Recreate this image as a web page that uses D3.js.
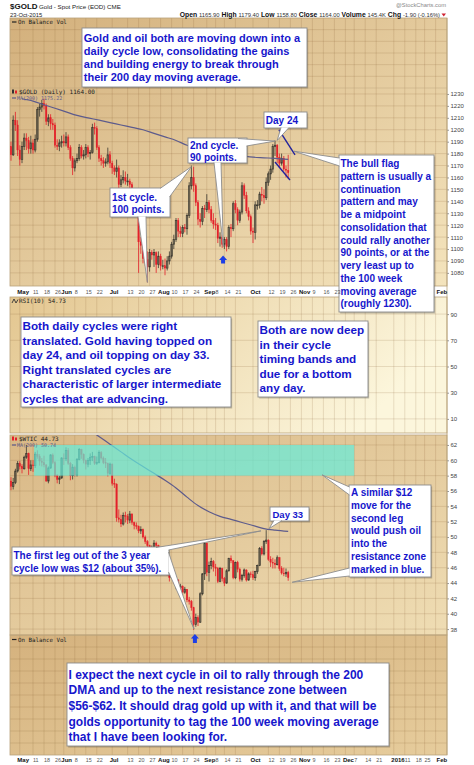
<!DOCTYPE html>
<html><head><meta charset="utf-8">
<script src="https://cdn.jsdelivr.net/npm/d3@7/dist/d3.min.js"></script>
<style>
html,body{margin:0;padding:0;background:#fff;}
svg{display:block;}
</style></head><body>
<svg id="c" width="474" height="765"></svg>
<script>
// ---------------- DATA ----------------
const startDate = "2015-04-27";
const holidays = ["2015-05-25","2015-07-03","2015-09-07","2015-11-26","2015-12-25","2016-01-01","2016-01-18"];

const goldOpen = [1186,1179,1208,1204,1183,1175,1186,1193,1191,1184,
1189,1183,1192,1217,1219,1222,1220,1207,1210,1205,
1204,1187,1186,1189,1190,1189,1194,1185,1176,1168,
1174,1176,1185,1178,1179,1185,1180,1181,1202,1201,
1185,1176,1174,1172,1173,1179,1172,1168,1165,1168,
1154,1158,1160,1157,1157,1154,1147,1145,1132,1106,
1103,1092,1091,1085,1097,1095,1097,1087,1094,1086,
1086,1084,1090,1094,1104,1108,1124,1115,1113,1118,
1117,1128,1153,1160,1153,1139,1125,1123,1134,1133,
1139,1133,1124,1121,1120,1109,1110,1104,1108,1102,
1118,1117,1138,1133,1124,1131,1153,1145,1132,1127,
1115,1114,1137,1137,1146,1145,1143,1156,1163,1167,
1186,1187,1177,1172,1176,1167,1166];
const goldHigh = [1190,1212,1215,1208,1187,1190,1197,1197,1194,1195,
1192,1196,1219,1222,1225,1226,1222,1213,1213,1209,
1206,1192,1192,1195,1196,1198,1196,1187,1178,1176,
1180,1188,1187,1183,1188,1187,1183,1205,1206,1203,
1187,1179,1177,1176,1185,1182,1174,1170,1175,1170,
1162,1166,1165,1163,1159,1156,1149,1146,1133,1110,
1105,1098,1098,1100,1099,1100,1098,1098,1096,1091,
1092,1094,1098,1106,1112,1126,1126,1119,1120,1121,
1130,1156,1170,1169,1155,1141,1130,1136,1137,1146,
1141,1136,1130,1126,1122,1114,1112,1110,1110,1120,
1121,1140,1141,1135,1133,1156,1155,1148,1135,1129,
1118,1140,1141,1148,1152,1150,1160,1165,1170,1188,
1191,1188,1180,1180,1178,1170,1179];
const goldLow = [1174,1178,1199,1178,1170,1172,1183,1183,1180,1180,
1180,1181,1190,1211,1215,1217,1204,1203,1200,1200,
1185,1183,1182,1185,1186,1186,1183,1174,1162,1165,
1172,1174,1176,1175,1176,1177,1175,1180,1196,1183,
1173,1170,1168,1169,1171,1168,1163,1162,1160,1150,
1152,1155,1154,1153,1150,1144,1142,1130,1080,1096,
1088,1086,1072,1081,1091,1085,1080,1084,1082,1083,
1078,1082,1087,1092,1100,1106,1110,1110,1110,1114,
1112,1126,1150,1148,1136,1120,1118,1120,1126,1131,
1130,1122,1117,1116,1105,1102,1101,1100,1098,1100,
1110,1115,1130,1120,1122,1129,1142,1130,1124,1112,
1105,1108,1133,1134,1140,1138,1141,1153,1158,1164,
1178,1172,1168,1170,1165,1160,1159];
const goldClose = [1179,1208,1204,1183,1175,1186,1193,1191,1184,1189,
1183,1192,1217,1219,1222,1220,1207,1210,1205,1204,
1187,1186,1189,1190,1189,1194,1185,1176,1168,1174,
1176,1185,1178,1179,1185,1180,1181,1202,1201,1185,
1176,1174,1172,1173,1179,1172,1168,1165,1168,1154,
1158,1160,1157,1157,1154,1147,1145,1132,1106,1103,
1092,1091,1085,1097,1095,1097,1087,1094,1086,1086,
1084,1090,1094,1104,1108,1124,1115,1113,1118,1117,
1128,1153,1160,1153,1139,1125,1123,1134,1133,1139,
1133,1124,1121,1120,1109,1110,1104,1108,1102,1118,
1117,1138,1133,1124,1131,1153,1145,1132,1127,1115,
1114,1137,1137,1146,1145,1143,1156,1163,1167,1186,
1187,1177,1172,1176,1167,1166,1164];

const goldMaIdx = [5,10,15,20,25,30,35,40,45,50,55,60,65,70,75,80,85,90,95,100,105,110,115,120,126];
const goldMaVal = [1226,1224,1221,1218,1215,1212,1210,1208,1206,1204,1202,1200,1197,1194,1191,1187,1184,1182,1180,1179,1178,1177,1176.5,1176,1175.2];

const oilOpen = [57.3,56.6,57.1,58.6,59.6,59.2,58.9,60.4,60.9,58.9,
59.4,59.3,60.8,60.5,59.9,59.7,59.4,57.3,59.0,60.7,
59.7,58.0,57.5,57.7,60.3,60.2,61.3,59.6,58.0,59.1,
58.1,60.1,61.4,60.8,60.0,59.5,60.0,60.4,60.5,59.6,
59.7,61.0,60.3,59.7,59.6,58.3,59.5,57.0,56.9,52.5,
52.3,51.7,52.8,52.7,52.2,53.0,51.9,51.5,51.4,50.8,
51.0,50.0,49.4,48.9,48.1,48.6,49.2,48.9,47.6,46.3,
46.6,45.9,45.4,44.7,45.6,44.2,44.4,43.4,43.6,42.8,
43.2,41.8,41.6,40.8,38.6,39.5,38.9,42.6,45.2,49.2,
45.4,46.3,46.8,46.1,45.9,44.2,45.9,44.6,44.0,45.6,
47.2,46.9,44.7,46.7,45.8,44.5,45.0,45.7,44.4,45.2,
45.1,44.7,45.5,46.3,48.5,47.8,49.4,49.6,47.1,46.7,
46.6,46.4,47.3,45.9,45.3,45.2,45.4];
const oilHigh = [57.8,57.7,58.9,59.9,59.9,59.5,60.6,62.0,61.0,60.0,
60.0,61.1,61.3,60.8,60.3,60.6,59.5,59.2,60.8,60.9,
59.9,58.2,58.0,60.4,60.9,61.7,61.6,59.8,59.5,59.3,
60.3,61.6,61.5,60.9,60.1,60.3,60.9,61.1,60.6,60.5,
61.3,61.2,60.5,60.3,59.7,59.7,59.6,57.6,57.0,53.6,
52.9,53.2,53.3,53.0,53.4,53.1,52.0,51.9,51.5,51.4,
51.1,50.2,49.6,49.0,48.9,49.6,49.4,49.0,47.7,47.0,
46.8,46.1,45.6,45.8,45.7,44.9,44.5,43.9,43.7,43.5,
43.2,42.2,41.8,40.9,40.0,39.8,42.8,45.3,49.4,49.3,
46.8,47.3,47.0,46.5,46.1,46.1,46.0,44.8,45.8,47.3,
47.6,47.0,46.8,46.9,46.0,45.2,45.9,45.8,45.4,45.5,
45.6,45.6,46.4,48.7,48.8,49.6,50.9,49.7,47.5,47.3,
47.1,47.6,47.4,46.2,46.0,45.9,45.6];
const oilLow = [56.1,56.2,56.9,58.4,58.8,58.3,58.8,60.2,58.1,58.6,
58.5,59.0,60.2,59.3,59.2,59.1,57.2,57.0,58.9,59.5,
57.8,57.0,56.9,57.6,59.4,59.9,59.4,57.4,57.5,57.9,
57.9,60.0,60.2,59.6,58.8,59.1,59.4,59.9,59.4,59.4,
59.6,60.1,59.5,59.0,57.9,58.1,56.7,56.4,52.0,51.9,
51.3,51.5,51.9,51.7,51.8,51.6,51.0,51.0,50.5,50.4,
49.8,49.1,48.5,47.8,47.8,48.5,48.6,47.3,46.0,45.9,
45.6,45.0,44.2,44.6,43.9,43.2,43.1,42.9,42.4,42.6,
41.5,41.2,40.4,37.9,38.3,38.4,38.8,42.4,44.4,44.9,
44.2,45.8,45.5,44.9,44.0,44.1,44.2,43.6,43.9,45.5,
46.6,44.5,44.5,45.4,44.2,44.2,44.7,44.2,44.3,44.7,
44.4,44.3,45.2,46.2,47.6,47.6,49.1,46.9,46.1,45.9,
45.9,46.3,45.6,45.1,44.9,44.8,44.3];
const oilClose = [56.6,57.1,58.6,59.6,59.2,58.9,60.4,60.9,58.9,59.4,
59.3,60.8,60.5,59.9,59.7,59.4,57.3,59.0,60.7,59.7,
58.0,57.5,57.7,60.3,60.2,61.3,59.6,58.0,59.1,58.1,
60.1,61.4,60.8,60.0,59.5,60.0,60.4,60.5,59.6,59.7,
61.0,60.3,59.7,59.6,58.3,59.5,57.0,56.9,52.5,52.3,
51.7,52.8,52.7,52.2,53.0,51.9,51.5,51.4,50.8,51.0,
50.0,49.4,48.9,48.1,48.6,49.2,48.9,47.6,46.3,46.6,
45.9,45.4,44.7,45.6,44.2,44.4,43.4,43.6,42.8,43.2,
41.8,41.6,40.8,38.6,39.5,38.9,42.6,45.2,49.2,45.4,
46.3,46.8,46.1,45.9,44.2,45.9,44.6,44.0,45.6,47.2,
46.9,44.7,46.7,45.8,44.5,45.0,45.7,44.4,45.2,45.1,
44.7,45.5,46.3,48.5,47.8,49.4,49.6,47.1,46.7,46.6,
46.4,47.3,45.9,45.3,45.2,45.4,44.7];

const oilMaIdx = [30,35,40,45,50,55,60,65,70,75,80,85,90,95,100,105,110,115,120,126];
const oilMaVal = [65.0,64.1,63.1,62.1,61.1,60.1,59.2,58.3,57.4,56.4,55.2,54.1,53.3,52.7,52.3,51.9,51.5,51.1,50.9,50.74];

const zoneStartIdx = 10.5, zoneEndIdx = 156, zoneLow = 58, zoneHigh = 62;

const tickDates = ["2015-05-01","2015-05-11","2015-05-18","2015-05-26","2015-06-01","2015-06-08","2015-06-15","2015-06-22",
"2015-07-01","2015-07-13","2015-07-20","2015-07-27","2015-08-03","2015-08-10","2015-08-17","2015-08-24",
"2015-09-01","2015-09-08","2015-09-14","2015-09-21","2015-10-01","2015-10-12","2015-10-19","2015-10-26",
"2015-11-02","2015-11-09","2015-11-16","2015-11-23","2015-12-01","2015-12-07","2015-12-14","2015-12-21",
"2016-01-04","2016-01-11","2016-01-19","2016-01-25","2016-02-01"];
const tickLabels = ["May","11","18","26","Jun","8","15","22","Jul","13","20","27","Aug","10","17","24",
"Sep","8","14","21","Oct","12","19","26","Nov","9","16","23","Dec","7","14","21","2016","11","18","25","Feb"];
const monthLabels = ["May","Jun","Jul","Aug","Sep","Oct","Nov","Dec","2016","Feb"];

const goldTicks = [1080,1090,1100,1110,1120,1130,1140,1150,1160,1170,1180,1190,1200,1210,1220,1230];
const rsiTicks = [10,30,50,70,90];
const oilTicks = [38,40,42,44,46,48,50,52,54,56,58,60,62];

// ---------------- SETUP ----------------
const svg = d3.select("#c");
const defs = svg.append("defs");
const FONT = "'Liberation Sans', Arial, sans-serif";
const MONO = "'DejaVu Sans Mono', monospace";
function grad(id, x2, y2, c1, c2){
  const g = defs.append("linearGradient").attr("id",id).attr("x1",0).attr("y1",0).attr("x2",x2).attr("y2",y2);
  g.append("stop").attr("offset","0%").attr("stop-color",c1);
  g.append("stop").attr("offset","100%").attr("stop-color",c2);
}
grad("gGold",1,1,"#d3b07c","#f4e4bd");
grad("gRsi",1,0.3,"#e3c690","#fcf6dc");
grad("gOil",1,1,"#d9b886","#efddb4");
grad("gObv",1,1,"#d5b27e","#e6cc9c");

// trading-day calendar (x positions)
const hol = new Set(holidays);
const tradingDays = [];
{
  let t = Date.parse(startDate+"T00:00:00Z");
  const end = Date.parse("2016-02-12T00:00:00Z");
  while (t <= end){
    const d = new Date(t); const wd = d.getUTCDay(); const s = d.toISOString().slice(0,10);
    if (wd>0 && wd<6 && !hol.has(s)) tradingDays.push(s);
    t += 86400000;
  }
}
const dayIdx = s => tradingDays.indexOf(s);
const tickIdx = tickDates.map(dayIdx);

const L = 10, R = 447;
const x = d3.scaleLinear().domain([0,198]).range([11, 446.6]);
const goldY = d3.scaleLinear().domain([1069,1235]).range([286,88]);
const rsiY = d3.scaleLinear().domain([0,100]).range([432,301]);
const oilY = d3.scaleLinear().domain([37.23,63.3]).range([635,435]);
const obvTopY = d3.scaleLinear().domain([0,6]).range([88,18]);
const obvBotY = d3.scaleLinear().domain([0,10]).range([755,635]);

const panels = [
  {y0:18, y1:286, fill:"url(#gGold)"},
  {y0:297, y1:433, fill:"url(#gRsi)"},
  {y0:435, y1:635, fill:"url(#gOil)"},
  {y0:635, y1:755, fill:"url(#gObv)"}
];
panels.forEach(p=>{
  svg.append("rect").attr("x",L).attr("y",p.y0).attr("width",R-L).attr("height",p.y1-p.y0).attr("fill",p.fill);
});

// grids
const gridCol = "rgba(125,88,40,0.24)";
const grid = svg.append("g").attr("stroke",gridCol).attr("stroke-width",0.7);
[[18,286],[297,433],[435,755]].forEach(([a,b])=>{
  tickIdx.forEach(i=>{ grid.append("line").attr("x1",x(i)).attr("x2",x(i)).attr("y1",a).attr("y2",b); });
});
goldTicks.forEach(v=>grid.append("line").attr("x1",L).attr("x2",R).attr("y1",goldY(v)).attr("y2",goldY(v)));
rsiTicks.forEach(v=>grid.append("line").attr("x1",L).attr("x2",R).attr("y1",rsiY(v)).attr("y2",rsiY(v)));
oilTicks.forEach(v=>grid.append("line").attr("x1",L).attr("x2",R).attr("y1",oilY(v)).attr("y2",oilY(v)));
d3.range(1,6).forEach(v=>grid.append("line").attr("x1",L).attr("x2",R).attr("y1",obvTopY(v)).attr("y2",obvTopY(v)));
d3.range(1,10).forEach(v=>grid.append("line").attr("x1",L).attr("x2",R).attr("y1",obvBotY(v)).attr("y2",obvBotY(v)));

// panel borders
const bord = svg.append("g").attr("fill","none").attr("stroke","#b9a27a").attr("stroke-width",0.8);
panels.forEach(p=>bord.append("rect").attr("x",L).attr("y",p.y0).attr("width",R-L).attr("height",p.y1-p.y0));
bord.append("line").attr("x1",L).attr("x2",R).attr("y1",88).attr("y2",88).attr("stroke-opacity",0.5);

// clip paths
defs.append("clipPath").attr("id","cpGold").append("rect").attr("x",L).attr("y",88).attr("width",R-L).attr("height",198);
defs.append("clipPath").attr("id","cpOil").append("rect").attr("x",L).attr("y",435).attr("width",R-L).attr("height",200);

// candles
const RED = "#e3202a", BLK = "#3b3830";
function candles(g, O, Hh, Lo, C, y){
  const bw = 1.5;
  C.forEach((c,i)=>{
    const prev = i>0 ? C[i-1] : O[0];
    const col = c < prev ? RED : BLK;
    const xi = x(i);
    g.append("line").attr("x1",xi).attr("x2",xi).attr("y1",y(Hh[i])).attr("y2",y(Lo[i]))
      .attr("stroke",col).attr("stroke-width",0.8);
    const top = y(Math.max(O[i],c)), bot = y(Math.min(O[i],c));
    const hollow = c >= O[i];
    g.append("rect").attr("x",xi-bw/2).attr("y",top).attr("width",bw).attr("height",Math.max(0.8,bot-top))
      .attr("fill", hollow ? "none" : col).attr("stroke",col).attr("stroke-width",hollow?0.7:0.3);
  });
}
const gGold = svg.append("g").attr("clip-path","url(#cpGold)");
candles(gGold, goldOpen, goldHigh, goldLow, goldClose, goldY);
const gOil = svg.append("g").attr("clip-path","url(#cpOil)");
candles(gOil, oilOpen, oilHigh, oilLow, oilClose, oilY);

// MA lines
const maCol = "#5d5b8c";
gGold.append("path").datum(goldMaIdx.map((d,i)=>[d,goldMaVal[i]]))
  .attr("d", d3.line().x(d=>x(d[0])).y(d=>goldY(d[1])).curve(d3.curveMonotoneX))
  .attr("fill","none").attr("stroke",maCol).attr("stroke-width",1.2);
gOil.append("path").datum(oilMaIdx.map((d,i)=>[d,oilMaVal[i]]))
  .attr("d", d3.line().x(d=>x(d[0])).y(d=>oilY(d[1])).curve(d3.curveMonotoneX))
  .attr("fill","none").attr("stroke",maCol).attr("stroke-width",1.2);

// resistance zone
gOil.append("rect").attr("x",x(zoneStartIdx)).attr("width",x(zoneEndIdx)-x(zoneStartIdx))
  .attr("y",oilY(zoneHigh)).attr("height",oilY(zoneLow)-oilY(zoneHigh))
  .attr("fill","rgb(100,236,220)").attr("fill-opacity",0.7);

// bull flag lines
const flagLines = [[[121.8,1199.8],[129.1,1178.9]],[[120,1173],[126.8,1157.9]]];
flagLines.forEach(l=>{
  svg.append("line").attr("x1",x(l[0][0])).attr("y1",goldY(l[0][1])).attr("x2",x(l[1][0])).attr("y2",goldY(l[1][1]))
    .attr("stroke","#22229c").attr("stroke-width",1.4);
});

// right axes
function rightAxis(scale, ticks, fmt){
  const g = svg.append("g").attr("transform",`translate(${R},0)`)
    .call(d3.axisRight(scale).tickValues(ticks).tickSize(2).tickPadding(1.5).tickFormat(fmt||d3.format("d")));
  g.select(".domain").remove();
  g.selectAll("line").attr("stroke","#999");
  g.selectAll("text").attr("font-family",FONT).attr("font-size",6).attr("fill","#444");
}
rightAxis(goldY, goldTicks); rightAxis(rsiY, rsiTicks); rightAxis(oilY, oilTicks);
svg.append("line").attr("x1",R).attr("x2",R).attr("y1",18).attr("y2",755).attr("stroke","#b9a27a").attr("stroke-width",0.8);

// header
svg.append("text").attr("x",10).attr("y",9).attr("font-family",FONT).attr("font-size",8).attr("font-weight","bold").attr("fill","#111").text("$GOLD");
svg.append("text").attr("x",39).attr("y",9).attr("font-family",FONT).attr("font-size",6.2).attr("fill","#222").text("Gold - Spot Price (EOD) CME");
svg.append("text").attr("x",446).attr("y",7).attr("text-anchor","end").attr("font-family",FONT).attr("font-size",5.8).attr("fill","#888").text("@StockCharts.com");
svg.append("text").attr("x",10).attr("y",16.5).attr("font-family",FONT).attr("font-size",5.8).attr("fill","#222").text("23-Oct-2015");
const stats = [["Open","1165.90"],["High","1179.40"],["Low","1158.80"],["Close","1164.00"],["Volume","145.4K"],["Chg","-1.90 (-0.16%)"]];
const st = svg.append("text").attr("x",440).attr("y",16.5).attr("text-anchor","end").attr("font-family",FONT).attr("fill","#111");
stats.forEach((s,i)=>{
  st.append("tspan").attr("font-weight","bold").attr("font-size",6.8).text((i?" ":"")+s[0]+" ");
  st.append("tspan").attr("font-size",5.8).attr("fill","#333").text(s[1]);
});
svg.append("path").attr("d","M441.5,13.5 L446,13.5 L443.75,16.5 Z").attr("fill","#d02030");

// legends
function legText(xx,yy,txt,size,col){ return svg.append("text").attr("x",xx).attr("y",yy).attr("font-family",MONO).attr("font-size",size).attr("fill",col||"#222").text(txt); }
svg.append("line").attr("x1",12).attr("x2",16.5).attr("y1",22).attr("y2",22).attr("stroke","#222").attr("stroke-width",1.2);
legText(18,24,"On Balance Vol",5.8);
svg.append("rect").attr("x",12).attr("y",89.5).attr("width",2).attr("height",4).attr("fill","#333");
svg.append("rect").attr("x",15).attr("y",90.5).attr("width",2).attr("height",3).attr("fill",RED);
legText(19,94,"$GOLD (Daily) 1164.00",6,"#222");
svg.append("line").attr("x1",12).attr("x2",16).attr("y1",98).attr("y2",98).attr("stroke",maCol).attr("stroke-width",1.2);
legText(17,100,"MA(200) 1175.22",5,maCol);
svg.append("path").attr("d","M12,303 L14,299 L16,303 L18,299.5").attr("fill","none").attr("stroke","#333").attr("stroke-width",0.9);
legText(19,303,"RSI(10) 54.73",6,"#222");
svg.append("rect").attr("x",12).attr("y",436.5).attr("width",2).attr("height",4).attr("fill",RED);
svg.append("rect").attr("x",15).attr("y",437.5).attr("width",2).attr("height",3).attr("fill",RED);
legText(19,441,"$WTIC 44.73",6,"#222");
svg.append("line").attr("x1",12).attr("x2",16).attr("y1",445).attr("y2",445).attr("stroke",maCol).attr("stroke-width",1.2);
legText(17,447,"MA(200) 50.74",5,maCol);
svg.append("line").attr("x1",12).attr("x2",16.5).attr("y1",639.5).attr("y2",639.5).attr("stroke","#222").attr("stroke-width",1.2);
legText(18,641.5,"On Balance Vol",5.8);

// blue arrows (pointing at the cycle lows)
function upArrow(cx, top, h){
  svg.append("path").attr("d",`M${cx-4},${top+4.5} L${cx},${top} L${cx+4},${top+4.5} L${cx+2},${top+4.5} L${cx+2},${top+h} L${cx-2},${top+h} L${cx-2},${top+4.5} Z`)
    .attr("fill","#1d3ee6");
}
upArrow(x(96.4), goldY(1094.5), 8);
upArrow(x(83.6), oilY(37.35), 9);

// ---------------- ANNOTATIONS ----------------
const TXT = "#1616cc";
const boxes = [
  {x:82,y:28,w:225,h:59,fs:11,lh:13.3,b:13.5,p:1.8,lines:["Gold and oil both are moving down into a","daily cycle low, consolidating the gains","and building energy to break through","their 200 day moving average."]},
  {x:110,y:188,w:60,h:29,fs:10,lh:12,b:12.8,p:2,lines:["1st cycle.","100 points."]},
  {x:188,y:138,w:59,h:25,fs:10,lh:12,b:10.6,p:2,lines:["2nd cycle.","90 points."]},
  {x:264,y:112,w:43,h:16,fs:10,lh:12,b:11.5,p:1.8,lines:["Day 24"]},
  {x:339,y:155,w:95,h:157,fs:10,lh:12.75,b:12,p:1.5,lines:["The bull flag","pattern is usually a","continuation","pattern and may","be a midpoint","consolidation that","could rally another","90 points, or at the","very least up to","the 100 week","moving average","(roughly 1230)."]},
  {x:21,y:317,w:210,h:90,fs:11.7,lh:14.5,b:13.2,p:1.5,lines:["Both daily cycles were right","translated. Gold having topped on","day 24, and oil topping on day 33.","Right translated cycles are","characteristic of larger intermediate","cycles that are advancing."]},
  {x:258,y:321,w:110,h:76,fs:11.7,lh:14.45,b:13.3,p:1.5,lines:["Both are now deep","in their cycle","timing bands and","due for a bottom","any day."]},
  {x:12,y:547,w:157,h:28,fs:10,lh:12.7,b:12.4,p:1.5,lines:["The first leg out of the 3 year","cycle low was $12 (about 35%)."]},
  {x:270,y:507,w:39,h:14,fs:9.5,lh:12,b:10.7,p:2.5,lines:["Day 33"]},
  {x:349,y:485,w:82,h:92,fs:10,lh:12.7,b:11.3,p:2,lines:["A similar $12","move for the","second leg","would push oil","into the","resistance zone","marked in blue."]},
  {x:67,y:663,w:322,h:83,fs:12,lh:15.7,b:15.5,p:1.5,lines:["I expect the next cycle in oil to rally through the 200","DMA and up to the next resistance zone between","$56-$62. It should drag gold up with it, and that will be","golds opportunity to tag the 100 week moving average","that I have been looking for."]}
];
const wedges = [
  {b1:[138,216.5],b2:[146,216.5],s:"g",i:62,v:1072},
  {b1:[160,188.5],b2:[169.5,197],s:"g",i:82,v:1169},
  {b1:[214,162.5],b2:[221,162.5],s:"g",i:96.5,v:1102},
  {b1:[238,138.5],b2:[246.5,146],s:"g",i:120,v:1190.5},
  {b1:[281,127.5],b2:[289,127.5],s:"g",i:121,v:1191},
  {b1:[339.5,158],b2:[339.5,166],s:"g",i:128.6,v:1182},
  {b1:[168.5,552],b2:[168.5,572],s:"o",i:83.2,v:38.0},
  {b1:[156,547.5],b2:[168.5,550],s:"o",i:113.6,v:50.8},
  {b1:[274,520.5],b2:[282,520.5],s:"o",i:117.3,v:51.1},
  {b1:[349.5,487],b2:[349.5,495],s:"o",i:141.4,v:58.1},
  {b1:[349.5,568],b2:[349.5,576],s:"o",i:127.8,v:44.1}
];
const ann = svg.append("g");
boxes.forEach(b=>{
  ann.append("rect").attr("x",b.x+1.2).attr("y",b.y+1.5).attr("width",b.w).attr("height",b.h).attr("fill","#000").attr("fill-opacity",0.22);
});
boxes.forEach(b=>{
  ann.append("rect").attr("x",b.x).attr("y",b.y).attr("width",b.w).attr("height",b.h).attr("fill","#fff").attr("stroke","#8c8c8c").attr("stroke-width",0.9);
});
wedges.forEach(w=>{
  const tx = x(w.i), ty = w.s==="g" ? goldY(w.v) : oilY(w.v);
  ann.append("path").attr("d",`M${w.b1[0]},${w.b1[1]} L${tx},${ty} L${w.b2[0]},${w.b2[1]} Z`).attr("fill","#fff");
  ann.append("path").attr("d",`M${w.b1[0]},${w.b1[1]} L${tx},${ty} L${w.b2[0]},${w.b2[1]}`)
    .attr("fill","none").attr("stroke","#8c8c8c").attr("stroke-width",0.9);
});
boxes.forEach(b=>{
  const t = ann.append("text").attr("font-family",FONT).attr("font-weight","bold").attr("font-size",b.fs).attr("fill",TXT);
  b.lines.forEach((ln,k)=>t.append("tspan").attr("x",b.x+b.p).attr("y",b.y+b.b+k*b.lh).text(ln));
});

// date axes (drawn last); labels hidden under the bull-flag box in the reference are not drawn
function dateAxis(yb, hide){
  const vals = tickIdx.filter(i=>!(hide && x(i) > hide[0] && x(i) < hide[1]));
  const g = svg.append("g").attr("transform",`translate(0,${yb})`)
    .call(d3.axisBottom(x).tickValues(vals).tickSize(0).tickFormat(d=>tickLabels[tickIdx.indexOf(d)]));
  g.select(".domain").remove();
  g.selectAll("text").attr("y",0).attr("dy",0).attr("text-anchor","start")
    .attr("font-family",FONT)
    .each(function(){
      const t = d3.select(this).text();
      const m = monthLabels.includes(t);
      const last = t === "Feb";
      d3.select(this).attr("x", last ? 0.5 : (m?-3:-0.5)).attr("font-size", m?6:5.4).attr("font-weight", m?"bold":"normal").attr("fill", m?"#111":"#555");
    });
}
dateAxis(294, [335, 433]); dateAxis(762, null);
</script>
</body></html>
